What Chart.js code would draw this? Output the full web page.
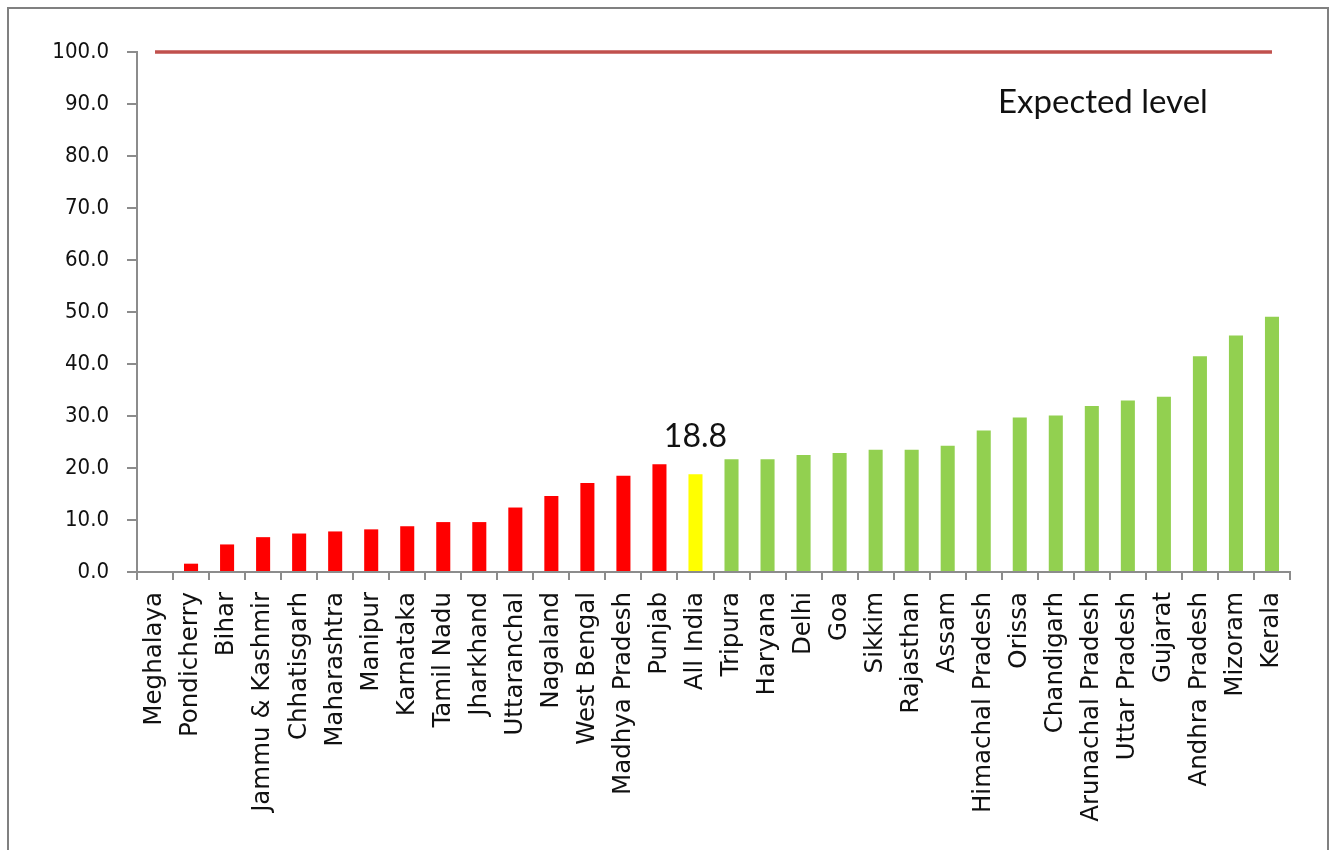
<!DOCTYPE html>
<html>
<head>
<meta charset="utf-8">
<script src="https://cdn.jsdelivr.net/npm/chart.js@4/dist/chart.umd.min.js"></script>
<style>
  html, body { margin: 0; padding: 0; background: #fff; }
  #wrap { width: 1337px; height: 850px; position: relative; }
</style>
</head>
<body>
<div id="wrap"><canvas id="chart" width="1337" height="850"></canvas></div>
<script>
// states, sorted by value, All India in the middle
const states = [
  "Meghalaya", "Pondicherry", "Bihar", "Jammu & Kashmir", "Chhatisgarh",
  "Maharashtra", "Manipur", "Karnataka", "Tamil Nadu", "Jharkhand",
  "Uttaranchal", "Nagaland", "West Bengal", "Madhya Pradesh", "Punjab",
  "All India", "Tripura", "Haryana", "Delhi", "Goa", "Sikkim", "Rajasthan",
  "Assam", "Himachal Pradesh", "Orissa", "Chandigarh", "Arunachal Pradesh",
  "Uttar Pradesh", "Gujarat", "Andhra Pradesh", "Mizoram", "Kerala"
];
const values = [
  0.0, 1.6, 5.3, 6.7, 7.4,
  7.8, 8.2, 8.8, 9.6, 9.6,
  12.4, 14.6, 17.1, 18.5, 20.7,
  18.8, 21.7, 21.7, 22.5, 22.9, 23.5, 23.5,
  24.3, 27.2, 29.7, 30.1, 31.9,
  33.0, 33.7, 41.5, 45.5, 49.1
];
const expectedLevel = 100;
const yTicks = [0, 10, 20, 30, 40, 50, 60, 70, 80, 90, 100];

const allIndiaIdx = states.indexOf("All India");
const barColors = states.map((s, i) =>
  i < allIndiaIdx ? '#FF0000' : (i === allIndiaIdx ? '#FFFF00' : '#92D050'));

// frame + text annotations
const extras = {
  id: 'extras',
  afterDraw(chart) {
    const ctx = chart.ctx;
    const x = chart.scales.x, y = chart.scales.y;
    ctx.save();
    ctx.strokeStyle = '#808080';
    ctx.lineWidth = 2;
    ctx.strokeRect(8, 8, 1320, 860);

    ctx.fillStyle = '#111';
    ctx.font = '32px Lato';
    ctx.textAlign = 'center';
    ctx.textBaseline = 'middle';
    ctx.fillText(values[allIndiaIdx].toFixed(1), x.getPixelForValue(allIndiaIdx), y.getPixelForValue(values[allIndiaIdx]) - 38);

    ctx.textAlign = 'left';
    ctx.font = '33px Lato';
    ctx.fillText('Expected level', chart.chartArea.right - 292, y.getPixelForValue(90) - 2);
    ctx.restore();
  }
};

new Chart(document.getElementById('chart'), {
  data: {
    labels: states,
    datasets: [
      {
        type: 'line',
        data: states.map(() => expectedLevel),
        borderColor: '#C0504D',
        borderWidth: 3.5,
        pointRadius: 0,
        clip: false,
        order: 0
      },
      {
        type: 'bar',
        data: values,
        backgroundColor: barColors,
        barPercentage: 0.39,
        categoryPercentage: 1,
        order: 1
      }
    ]
  },
  options: {
    responsive: false,
    animation: false,
    layout: { padding: { top: 52, right: 47, left: 0, bottom: 0 } },
    plugins: { legend: { display: false }, tooltip: { enabled: false } },
    scales: {
      x: {
        offset: true,
        grid: { offset: true, drawOnChartArea: false, tickLength: 8, color: '#8c8c8c', lineWidth: 2 },
        border: { color: '#8c8c8c', width: 2 },
        ticks: {
          autoSkip: false, minRotation: 90, maxRotation: 90, padding: 12,
          color: '#111', font: { family: 'DejaVu Sans', size: 24.5 }
        },
        afterFit: s => { s.height = 278; }
      },
      y: {
        min: 0, max: 100,
        afterBuildTicks: s => { s.ticks = yTicks.map(v => ({ value: v })); },
        grid: { drawOnChartArea: false, tickLength: 10, color: '#8c8c8c', lineWidth: 2 },
        border: { color: '#8c8c8c', width: 2 },
        ticks: {
          padding: 18, color: '#111',
          font: { family: '"DejaVu Sans Condensed", "DejaVu Sans", sans-serif', size: 22 },
          callback: v => Number(v).toFixed(1)
        },
        afterFit: s => { s.width = 137; }
      }
    }
  },
  plugins: [extras]
});
</script>
</body>
</html>
